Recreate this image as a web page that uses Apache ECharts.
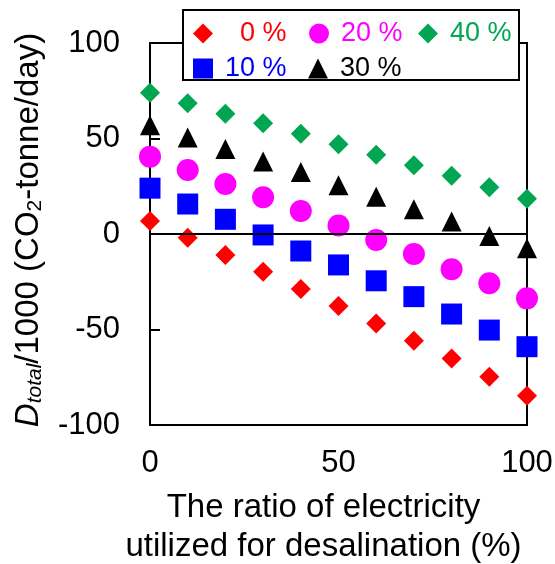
<!DOCTYPE html>
<html>
<head>
<meta charset="utf-8">
<script src="https://cdn.jsdelivr.net/npm/echarts@6/dist/echarts.min.js"></script>
<style>
  html, body { margin: 0; padding: 0; background: #fff; }
  #ichart { width: 555px; height: 564px; }
</style>
</head>
<body>
<div id="ichart"></div>
<script>
// ratio of electricity used for desalination (%)
const ratios = [0, 10, 20, 30, 40, 50, 60, 70, 80, 90, 100]
// D_total / 1000 for each case
const d0 = [6.8, -2, -11, -19.7, -28.8, -37.7, -46.8, -55.9, -65.2, -74.8, -84.7]
const d10 = [24, 15.7, 7.7, -0.5, -8.9, -16.2, -24.5, -32.8, -41.9, -50.3, -59]
const d20 = [40.5, 33.5, 26.2, 19.2, 12, 4.4, -3.1, -10.5, -18.5, -25.8, -33.7]
const d30 = [57, 50.5, 44.5, 38, 32.5, 25.5, 19.5, 13, 6.5, -1, -7.5]
const d40 = [74, 68.5, 63, 58, 52.5, 47, 41.5, 36, 30.5, 24.5, 18.5]
const seriesNames = ['0 %', '10 %', '20 %', '30 %', '40 %']
const xTicks = [0, 50, 100]
const yTicks = [-100, -50, 0, 50, 100]

const font = 'Liberation Sans, Arial, sans-serif'

function pts (arr) {
  return ratios.map((r, i) => [r, arr[i]])
}

// one legend per item, so the two rows line up like the original
function legendItem (name, icon, color, left, top, pad) {
  return {
    data: [{ name: name, icon: icon }],
    left: left,
    top: top,
    itemWidth: 20,
    itemHeight: 20,
    z: 20,
    textStyle: { color: color, fontSize: 27, fontFamily: font, padding: [0, 0, 0, pad] }
  }
}

const myChart = echarts.init(document.getElementById('ichart'))
const option = {
  animation: false,
  backgroundColor: '#fff',
  grid: {
    left: 150,
    right: 28,
    top: 43,
    bottom: 139,
    outerBoundsMode: 'none',
    show: true,
    borderColor: '#000',
    borderWidth: 2
  },
  graphic: [
    {
      type: 'rect',
      z: 10,
      shape: { x: 183, y: 10, width: 336, height: 70 },
      style: { fill: '#fff', stroke: '#000', lineWidth: 2 }
    }
  ],
  legend: [
    legendItem('0 %', 'diamond', '#ff0000', 188, 15, 22),
    legendItem('20 %', 'circle', '#ff00ff', 304, 15, 7),
    legendItem('40 %', 'diamond', '#00a651', 413, 15, 7),
    legendItem('10 %', 'rect', '#0000ff', 188, 50, 7),
    legendItem('30 %', 'triangle', '#000000', 303, 50, 7)
  ],
  xAxis: {
    type: 'value',
    min: xTicks[0],
    max: xTicks[xTicks.length - 1],
    interval: 50,
    name: 'The ratio of electricity\nutilized for desalination (%)',
    nameLocation: 'middle',
    nameGap: 63,
    nameTextStyle: { color: '#000', fontSize: 33, fontFamily: font, lineHeight: 39, padding: [0, 30, 0, 0] },
    axisLine: { onZero: false, lineStyle: { color: '#000', width: 2 } },
    axisTick: { show: false },
    splitLine: { show: false },
    axisLabel: { color: '#000', fontSize: 31, fontFamily: font, margin: 23 }
  },
  yAxis: {
    type: 'value',
    min: yTicks[0],
    max: yTicks[yTicks.length - 1],
    interval: 50,
    name: '{i|D}{isub|total}{n|/1000 (CO}{sub|2}{n|-tonne/day)}',
    nameLocation: 'middle',
    nameGap: 104,
    nameTextStyle: {
      color: '#000',
      fontFamily: font,
      padding: [0, 0, 0, 8],
      rich: {
        i: { fontSize: 33, fontStyle: 'italic', fontFamily: font, lineHeight: 35 },
        n: { fontSize: 33, fontFamily: font, lineHeight: 35 },
        isub: { fontSize: 21, fontStyle: 'italic', fontFamily: font, lineHeight: 12, verticalAlign: 'bottom' },
        sub: { fontSize: 21, fontFamily: font, lineHeight: 12, verticalAlign: 'bottom' }
      }
    },
    axisLine: { lineStyle: { color: '#000', width: 2 } },
    axisTick: { inside: true, length: 10, lineStyle: { color: '#000', width: 2 } },
    splitLine: { show: false },
    axisLabel: { color: '#000', fontSize: 31, fontFamily: font, margin: 30 }
  },
  series: [
    {
      name: seriesNames[0],
      type: 'scatter',
      symbol: 'diamond',
      symbolSize: 20,
      itemStyle: { color: '#ff0000', opacity: 1 },
      data: pts(d0),
      markLine: {
        silent: true,
        symbol: 'none',
        label: { show: false },
        lineStyle: { color: '#000', width: 2, type: 'solid', opacity: 1 },
        data: [{ yAxis: 0 }]
      }
    },
    {
      name: seriesNames[1],
      type: 'scatter',
      symbol: 'rect',
      symbolSize: 21,
      itemStyle: { color: '#0000ff', opacity: 1 },
      data: pts(d10)
    },
    {
      name: seriesNames[2],
      type: 'scatter',
      symbol: 'circle',
      symbolSize: 22,
      itemStyle: { color: '#ff00ff', opacity: 1 },
      data: pts(d20)
    },
    {
      name: seriesNames[3],
      type: 'scatter',
      symbol: 'triangle',
      symbolSize: 20,
      itemStyle: { color: '#000000', opacity: 1 },
      data: pts(d30)
    },
    {
      name: seriesNames[4],
      type: 'scatter',
      symbol: 'diamond',
      symbolSize: 20,
      itemStyle: { color: '#00a651', opacity: 1 },
      data: pts(d40)
    }
  ]
}
myChart.setOption(option)
</script>
</body>
</html>
